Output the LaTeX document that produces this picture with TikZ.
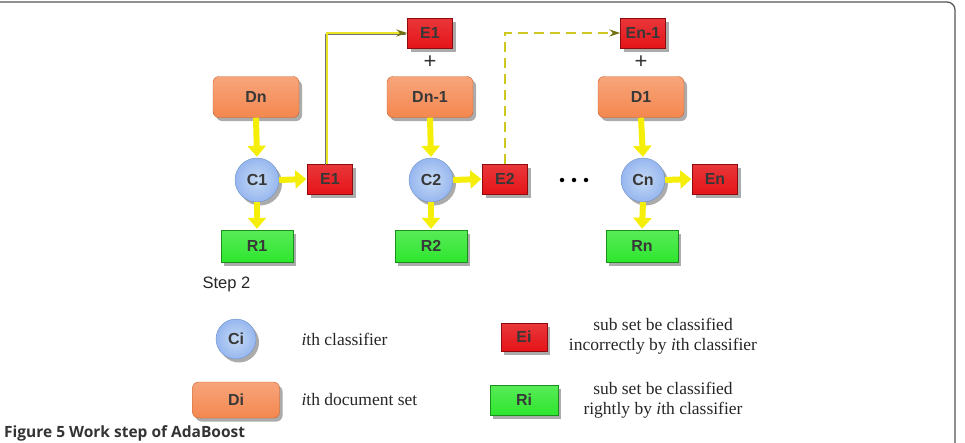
\documentclass[tikz,border=0pt]{standalone}
\usepackage{fontspec}
\setmainfont{Liberation Serif}
\setsansfont{Liberation Sans}
\newfontfamily\capfont{Open Sans}
\usetikzlibrary{arrows.meta,shadows}

\definecolor{dset}{HTML}{F4874F}
\definecolor{dsetedge}{HTML}{C8602C}
\definecolor{clsf}{HTML}{A4C6EE}
\definecolor{clsfedge}{HTML}{6F93C4}
\definecolor{errbox}{HTML}{E51418}
\definecolor{erredge}{HTML}{8E0A0C}
\definecolor{okbox}{HTML}{2EE62E}
\definecolor{okedge}{HTML}{1B8F1B}
\definecolor{flow}{HTML}{F4EE08}
\definecolor{linkc}{HTML}{EAE224}
\definecolor{framegray}{HTML}{555555}

\tikzset{
  base/.style={font=\sffamily\bfseries\fontsize{16}{16}\selectfont, text=black!78,
    drop shadow={shadow xshift=3pt, shadow yshift=-3.5pt, opacity=0.6, fill=black!55}},
  docset/.style={base, rounded corners=6pt, minimum width=86pt, minimum height=41pt,
    top color=dset!75!white, bottom color=dset, draw=dsetedge, thin},
  classifier/.style={base, circle, minimum size=44pt, inner sep=0pt,
    inner color=clsf!65!white, outer color=clsf!92!blue, draw=clsfedge, thin},
  errset/.style={base, minimum width=45pt, minimum height=30pt,
    top color=errbox!85!white, bottom color=errbox, draw=erredge, thin},
  okset/.style={base, minimum width=72pt, minimum height=32pt,
    top color=okbox!80!white, bottom color=okbox, draw=okedge, thin},
  flowarrow/.style={draw=flow, line width=6pt, shorten >=1pt,
    -{Triangle[length=11pt,width=18pt]}},
  linkshade/.style={preaction={draw=black!55, line width=0.9pt, -,
    transform canvas={xshift=-1.2pt, yshift=-1.2pt}}},
  link/.style={draw=linkc, line width=1.7pt,
    -{Stealth[length=11pt,width=7pt,color=linkc!50!black]}},
  dashlink/.style={draw=linkc!88!black, line width=1.8pt, dash pattern=on 10pt off 6pt,
    -{Stealth[length=11pt,width=7pt,color=linkc!50!black]}},
  legendtext/.style={font=\fontsize{17.5}{20}\selectfont, text=black!85, align=center},
  plus/.style={font=\sffamily\fontsize{22}{22}\selectfont, text=black!80},
}

\begin{document}
\begin{tikzpicture}[x=1pt,y=-1pt]
\useasboundingbox (0,0) rectangle (965,442);

% outer frame
\draw[framegray, line width=1.3pt, rounded corners=8pt] (-5,2) -- (955,2) -- (955,460);

% ---------- step 1 ----------
\node[docset]     (Dn)  at (256,97)  {Dn};
\node[classifier] (C1)  at (257,180) {C1};
\node[errset]     (E1)  at (330,179) {E1};
\node[okset]      (R1)  at (257,246) {R1};

% ---------- step 2 ----------
\node[errset]     (E1b) at (430,33)  {E1};
\node[plus]       (P1)  at (430,62)  {+};
\node[docset]     (Dn1) at (430,97)  {Dn-1};
\node[classifier] (C2)  at (431,180) {C2};
\node[errset]     (E2)  at (505,179) {E2};
\node[okset]      (R2)  at (431,246) {R2};

% ---------- step n ----------
\node[errset]     (En1) at (643,33)  {En-1};
\node[plus]       (P2)  at (641,62)  {+};
\node[docset]     (D1)  at (641,97)  {D1};
\node[classifier] (Cn)  at (643,180) {Cn};
\node[errset]     (En)  at (715,179) {En};
\node[okset]      (Rn)  at (642,246) {Rn};

% ellipsis between steps
\foreach \x/\n in {562/a,574/b,586/c}
  \node[circle, fill=black, inner sep=0pt, minimum size=4.5pt] (dot\n) at (\x,180) {};

% block arrows
\foreach \a/\b in {Dn/C1, C1/R1, Dn1/C2, C2/R2, D1/Cn, Cn/Rn}
  \draw[flowarrow] (\a.south) -- (\b.north);
\foreach \a/\b in {C1/E1, C2/E2, Cn/En}
  \draw[flowarrow] (\a.east) -- (\b.west);

% carried errors
\draw[link, linkshade] ([xshift=-3pt]E1.north) |- (E1b.west);
\draw[dashlink] (E2.north) |- (En1.west);

\node[font=\sffamily\fontsize{16.5}{16.5}\selectfont, text=black!85, anchor=west] (step) at (199,284) {Step 2};

% ---------- legend ----------
\node[classifier, minimum size=40pt] (Ci) at (236,339) {Ci};
\node[legendtext, anchor=west] (Cit) at (298,339) {\textit{i}th classifier};
\node[docset, minimum width=87pt, minimum height=36pt] (Di) at (236,400) {Di};
\node[legendtext, anchor=west] (Dit) at (298,400) {\textit{i}th document set};
\node[errset, minimum width=46pt, minimum height=28pt] (Ei) at (524,337) {Ei};
\node[legendtext] (Eit) at (663,336) {sub set be classified\\incorrectly by \textit{i}th classifier};
\node[okset, minimum width=68pt, minimum height=30pt] (Ri) at (524,400) {Ri};
\node[legendtext] (Rit) at (663,400) {sub set be classified\\rightly by \textit{i}th classifier};

% caption along the bottom edge
\node[font=\capfont\bfseries\fontsize{15.5}{15.5}\selectfont, text=black!80, anchor=base west, inner sep=0pt] (cap) at (4,437) {Figure 5 Work step of AdaBoost};
\end{tikzpicture}
\end{document}
